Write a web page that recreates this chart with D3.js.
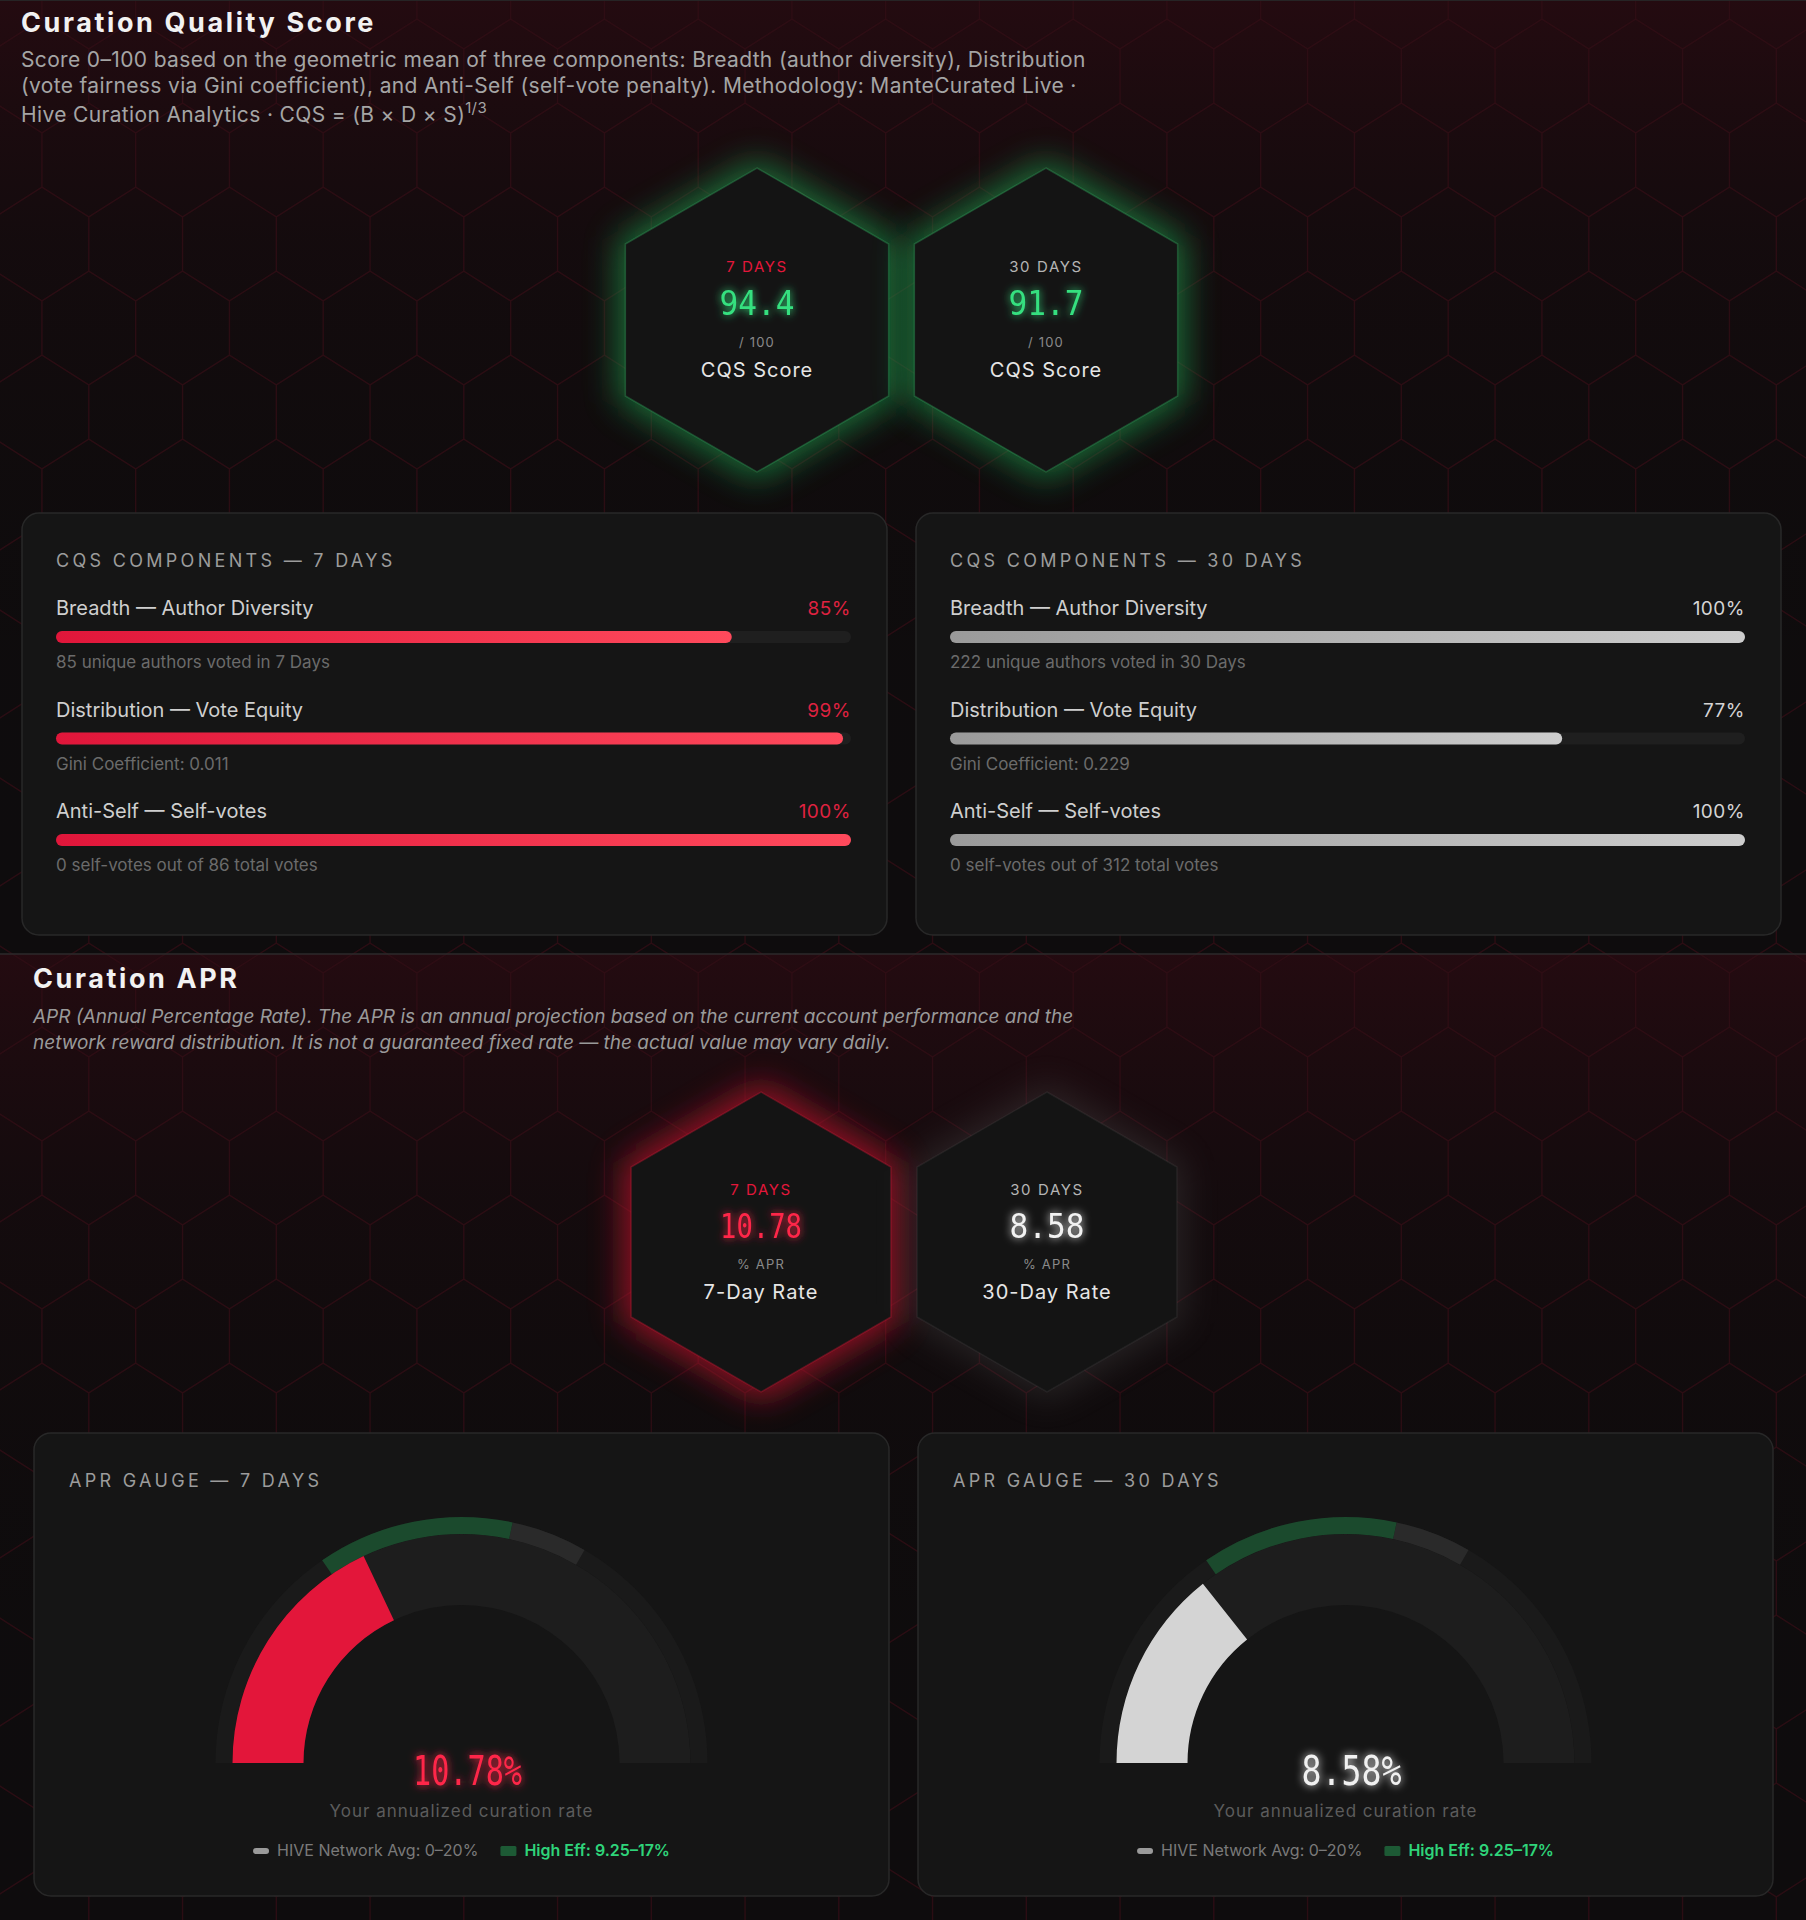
<!DOCTYPE html>
<html><head><meta charset="utf-8">
<script src="https://cdn.jsdelivr.net/npm/d3@7"></script>
<style>
html,body{margin:0;padding:0;background:#0e0c0d;}
svg{display:block;}
</style></head><body>
<svg id="chart" width="1806" height="1920"></svg>
<script>
// ---------------- DATA ----------------
const periods = ["7 DAYS", "30 DAYS"];
const cqsScores = [94.4, 91.7];
const componentNames = ["Breadth — Author Diversity", "Distribution — Vote Equity", "Anti-Self — Self-votes"];
const components7 = [85, 99, 100];
const components30 = [100, 77, 100];
const componentNotes7 = ["85 unique authors voted in 7 Days", "Gini Coefficient: 0.011", "0 self-votes out of 86 total votes"];
const componentNotes30 = ["222 unique authors voted in 30 Days", "Gini Coefficient: 0.229", "0 self-votes out of 312 total votes"];
const aprValues = [10.78, 8.58];
const aprRateLabels = ["7-Day Rate", "30-Day Rate"];
const gaugeDomain = [0, 30];
const networkAvgRange = [0, 20];
const highEffRange = [9.25, 17];
const legendLabels = ["HIVE Network Avg: 0–20%", "High Eff: 9.25–17%"];
const subtitleLines = [
  "Score 0–100 based on the geometric mean of three components: Breadth (author diversity), Distribution",
  "(vote fairness via Gini coefficient), and Anti-Self (self-vote penalty). Methodology: ManteCurated Live ·",
  "Hive Curation Analytics · CQS = (B × D × S)"
];
const aprDescLines = [
  "APR (Annual Percentage Rate). The APR is an annual projection based on the current account performance and the",
  "network reward distribution. It is not a guaranteed fixed rate — the actual value may vary daily."
];

// ---------------- SETUP ----------------
const W = 1806, H = 1920;
const svg = d3.select("#chart");
const SANS = "Inter, 'Noto Sans', sans-serif";
const TECH = "Inter, 'DejaVu Sans', sans-serif";
const MONO = "'DejaVu Sans Mono', 'Liberation Mono', monospace";
const RED = "#e3173b", GREEN = "#35e07f";

const defs = svg.append("defs");
function glowFilter(id, std) {
  const f = defs.append("filter").attr("id", id).attr("x", "-60%").attr("y", "-60%").attr("width", "220%").attr("height", "220%");
  f.append("feGaussianBlur").attr("in", "SourceGraphic").attr("stdDeviation", std).attr("result", "b");
  const m = f.append("feMerge");
  m.append("feMergeNode").attr("in", "b");
  m.append("feMergeNode").attr("in", "SourceGraphic");
}
glowFilter("tglow", 4);
const blurF = defs.append("filter").attr("id", "hexblur").attr("x", "-50%").attr("y", "-50%").attr("width", "200%").attr("height", "200%");
blurF.append("feGaussianBlur").attr("stdDeviation", 17);

function lg(id, stops, x2 = "100%", y2 = "0%") {
  const g = defs.append("linearGradient").attr("id", id).attr("x1", "0%").attr("y1", "0%").attr("x2", x2).attr("y2", y2);
  stops.forEach(s => g.append("stop").attr("offset", s[0]).attr("stop-color", s[1]).attr("stop-opacity", s[2] ?? 1));
}
lg("redBar", [["0%", "#e0163a"], ["100%", "#ff4a5c"]]);
lg("grayBar", [["0%", "#9a9a9a"], ["100%", "#cdcdcd"]]);
lg("secTint", [["0%", "#3a0a14", 0.5], ["25%", "#2a0810", 0.22], ["60%", "#1a0609", 0.05], ["100%", "#0e0c0d", 0]], "0%", "100%");

// background
svg.append("rect").attr("width", W).attr("height", H).attr("fill", "#0e0c0d");
svg.append("rect").attr("x", 0).attr("y", 0).attr("width", W).attr("height", 954).attr("fill", "url(#secTint)");
svg.append("rect").attr("x", 0).attr("y", 954).attr("width", W).attr("height", 966).attr("fill", "url(#secTint)");

// hex pattern
(function () {
  const hw = 93.75, s = 54, h = 30, rowH = 84;
  let d = "";
  for (let j = -2; j < H / rowH + 2; j++) {
    const cy = 160 + j * rowH;
    const off = (j % 2 === 0) ? 0 : -hw / 2;
    for (let i = -2; i < W / hw + 2; i++) {
      const cx = 88.8 + off + i * hw;
      d += `M${cx},${cy - s / 2 - h}L${cx + hw / 2},${cy - s / 2}L${cx + hw / 2},${cy + s / 2}L${cx},${cy + s / 2 + h}L${cx - hw / 2},${cy + s / 2}L${cx - hw / 2},${cy - s / 2}Z`;
    }
  }
  svg.append("path").attr("d", d).attr("fill", "none").attr("stroke", "#300e15").attr("stroke-width", 1.4).attr("opacity", 0.85);
})();

svg.append("line").attr("x1", 0).attr("x2", W).attr("y1", 954).attr("y2", 954).attr("stroke", "#2c2a2b").attr("stroke-width", 1.5);
svg.append("line").attr("x1", 0).attr("x2", W).attr("y1", 0.5).attr("y2", 0.5).attr("stroke", "#262425").attr("stroke-width", 1);

// ---------------- HEADERS ----------------
svg.append("text").attr("x", 21).attr("y", 32).text("Curation Quality Score")
  .attr("font-family", SANS).attr("font-weight", 700).attr("font-size", 27).attr("letter-spacing", 2.6).attr("fill", "#f2f2f2");
const sub = svg.append("g").attr("font-family", SANS).attr("font-size", 21).attr("letter-spacing", 0.35).attr("fill", "#a5a5a5");
[67, 93, 122].forEach((y, i) => {
  const t = sub.append("text").attr("x", 21).attr("y", y).text(subtitleLines[i]);
  if (i === 2) t.append("tspan").attr("font-size", 15).attr("dy", -9).text("1/3");
});

svg.append("text").attr("x", 33).attr("y", 988).text("Curation APR")
  .attr("font-family", SANS).attr("font-weight", 700).attr("font-size", 27).attr("letter-spacing", 2.6).attr("fill", "#f2f2f2");
const desc = svg.append("g").attr("font-family", SANS).attr("font-size", 19).attr("font-style", "italic").attr("fill", "#9a9a9a");
[1023, 1049].forEach((y, i) => desc.append("text").attr("x", 33).attr("y", y).text(aprDescLines[i]));

// ---------------- HEXAGONS ----------------
function hexPath(cx, cy, R) {
  const pts = d3.range(6).map(k => {
    const a = -Math.PI / 2 + k * Math.PI / 3;
    return [cx + R * Math.cos(a), cy + R * Math.sin(a)];
  });
  return d3.line()(pts) + "Z";
}
function drawHex(cx, cy, R, glowColor, glowOp, rim, label, labelColor, value, valueColor, valueW, unit, caption, ys) {
  const g = svg.append("g");
  g.append("path").attr("d", hexPath(cx, cy, R + 8)).attr("fill", glowColor).attr("opacity", glowOp).attr("filter", "url(#hexblur)");
  g.append("path").attr("d", hexPath(cx, cy, R)).attr("fill", "#141414").attr("stroke", rim).attr("stroke-width", 1.5);
  g.append("text").attr("x", cx).attr("y", ys[0]).attr("text-anchor", "middle").text(label)
    .attr("font-family", TECH).attr("font-size", 15).attr("letter-spacing", 1.6).attr("fill", labelColor);
  g.append("text").attr("x", cx).attr("y", ys[1]).attr("text-anchor", "middle").text(value)
    .attr("font-family", MONO).attr("font-size", 34).attr("fill", valueColor)
    .attr("textLength", valueW).attr("lengthAdjust", "spacingAndGlyphs").attr("filter", "url(#tglow)");
  g.append("text").attr("x", cx).attr("y", ys[2]).attr("text-anchor", "middle").text(unit)
    .attr("font-family", TECH).attr("font-size", 13).attr("letter-spacing", 1.2).attr("fill", "#8a8a8a");
  g.append("text").attr("x", cx).attr("y", ys[3]).attr("text-anchor", "middle").text(caption)
    .attr("font-family", SANS).attr("font-size", 20).attr("letter-spacing", 1).attr("fill", "#e6e6e6");
}
const cqsHexX = [757, 1046];
cqsScores.forEach((v, i) => {
  drawHex(cqsHexX[i], 320, 152, "#1f9a4c", 0.7, "rgba(60,190,110,0.3)", periods[i], i === 0 ? RED : "#b5b5b5",
    v.toFixed(1), GREEN, 75, "/ 100", "CQS Score", [272, 315, 347, 377]);
});
const aprHexX = [761, 1047];
aprValues.forEach((v, i) => {
  drawHex(aprHexX[i], 1242, 150, i === 0 ? "#c8122f" : "#5a5a5a", i === 0 ? 0.75 : 0.3,
    i === 0 ? "rgba(230,30,60,0.3)" : "rgba(255,255,255,0.06)", periods[i], i === 0 ? RED : "#b5b5b5",
    v.toFixed(2), i === 0 ? "#ff2748" : "#f2f2f2", i === 0 ? 82 : 75, "% APR", aprRateLabels[i], [1195, 1238, 1269, 1299]);
});

// ---------------- COMPONENT PANELS ----------------
function panel(x, y, w, h) {
  svg.append("rect").attr("x", x).attr("y", y).attr("width", w).attr("height", h).attr("rx", 17)
    .attr("fill", "#151515").attr("stroke", "#282828").attr("stroke-width", 1.5);
}
const compPanels = [
  { x: 22, vals: components7, notes: componentNotes7, fill: "url(#redBar)", pctColor: "#de2240" },
  { x: 916, vals: components30, notes: componentNotes30, fill: "url(#grayBar)", pctColor: "#d4d4d4" }
];
compPanels.forEach((p, pi) => {
  const pw = 865;
  panel(p.x, 513, pw, 422);
  const x0 = p.x + 34, x1 = p.x + pw - 36;
  svg.append("text").attr("x", x0).attr("y", 567).text("CQS COMPONENTS — " + periods[pi])
    .attr("font-family", TECH).attr("font-size", 18).attr("letter-spacing", 3.3).attr("fill", "#9c9c9c");
  const xs = d3.scaleLinear().domain([0, 100]).range([0, x1 - x0]);
  p.vals.forEach((v, i) => {
    const oy = i * 101.5;
    svg.append("text").attr("x", x0).attr("y", 615 + oy).text(componentNames[i])
      .attr("font-family", SANS).attr("font-size", 20).attr("fill", "#cfcfcf");
    svg.append("text").attr("x", x1).attr("y", 615 + oy).attr("text-anchor", "end").text(v + "%")
      .attr("font-family", TECH).attr("font-size", 19).attr("letter-spacing", 0.5).attr("fill", p.pctColor);
    svg.append("rect").attr("x", x0).attr("y", 631 + oy).attr("width", xs(100)).attr("height", 12).attr("rx", 6).attr("fill", "#1f1f1f");
    svg.append("rect").attr("x", x0).attr("y", 631 + oy).attr("width", xs(v)).attr("height", 12).attr("rx", 6).attr("fill", p.fill);
    svg.append("text").attr("x", x0).attr("y", 668 + oy).text(p.notes[i])
      .attr("font-family", SANS).attr("font-size", 17).attr("fill", "#6b6b6b");
  });
});

// ---------------- GAUGES ----------------
const gScale = d3.scaleLinear().domain(gaugeDomain).range([-Math.PI / 2, Math.PI / 2]);
const rIn = 158, rMid = 229, rOut = 246;
const gaugePanels = [
  { x: 34, fill: "#e3163a", textColor: "#ff2748" },
  { x: 918, fill: "#d4d4d4", textColor: "#f0f0f0" }
];
gaugePanels.forEach((p, gi) => {
  const pw = 855;
  panel(p.x, 1433, pw, 463);
  svg.append("text").attr("x", p.x + 35).attr("y", 1487).text("APR GAUGE — " + periods[gi])
    .attr("font-family", TECH).attr("font-size", 18).attr("letter-spacing", 3.3).attr("fill", "#9c9c9c");
  const cx = p.x + pw / 2, cy = 1763;
  const g = svg.append("g").attr("transform", `translate(${cx},${cy})`);
  const arc = d3.arc();
  const seg = (a, b, r0, r1, c) => g.append("path").attr("d", arc({ innerRadius: r0, outerRadius: r1, startAngle: gScale(a), endAngle: gScale(b) })).attr("fill", c);
  seg(gaugeDomain[0], gaugeDomain[1], rIn, rMid, "#1d1d1d");
  seg(gaugeDomain[0], gaugeDomain[1], rMid, rOut, "#1a1a1a");
  seg(highEffRange[1], networkAvgRange[1], rMid, rOut, "#2a2a2a");
  seg(highEffRange[0], highEffRange[1], rMid, rOut, "#1b4a2d");
  seg(gaugeDomain[0], aprValues[gi], rIn, rMid, p.fill);

  svg.append("text").attr("x", cx + 6).attr("y", 1785).attr("text-anchor", "middle").text(aprValues[gi].toFixed(2) + "%")
    .attr("font-family", MONO).attr("font-size", 41).attr("fill", p.textColor)
    .attr("textLength", gi === 0 ? 109 : 100).attr("lengthAdjust", "spacingAndGlyphs").attr("filter", "url(#tglow)");
  svg.append("text").attr("x", cx).attr("y", 1817).attr("text-anchor", "middle").text("Your annualized curation rate")
    .attr("font-family", TECH).attr("font-size", 17).attr("letter-spacing", 1).attr("fill", "#5c5c5c");

  // legend
  const lgG = svg.append("g").attr("font-family", SANS).attr("font-size", 16);
  const sw1 = lgG.append("rect").attr("width", 16).attr("height", 6).attr("rx", 3).attr("fill", "#9a9a9a");
  const t1 = lgG.append("text").text(legendLabels[0]).attr("fill", "#7a7a7a");
  const sw2 = lgG.append("rect").attr("width", 16).attr("height", 10).attr("rx", 1.5).attr("fill", "#1d5a35");
  const t2 = lgG.append("text").text(legendLabels[1]).attr("fill", "#2fd47a").attr("font-weight", 600);
  const w1 = t1.node().getComputedTextLength(), w2 = t2.node().getComputedTextLength();
  const total = 16 + 8 + w1 + 22 + 16 + 8 + w2;
  let lx = cx - total / 2;
  const by = 1856;
  sw1.attr("x", lx).attr("y", by - 8); lx += 24;
  t1.attr("x", lx).attr("y", by); lx += w1 + 22;
  sw2.attr("x", lx).attr("y", by - 10); lx += 24;
  t2.attr("x", lx).attr("y", by);
});
</script>
</body></html>
